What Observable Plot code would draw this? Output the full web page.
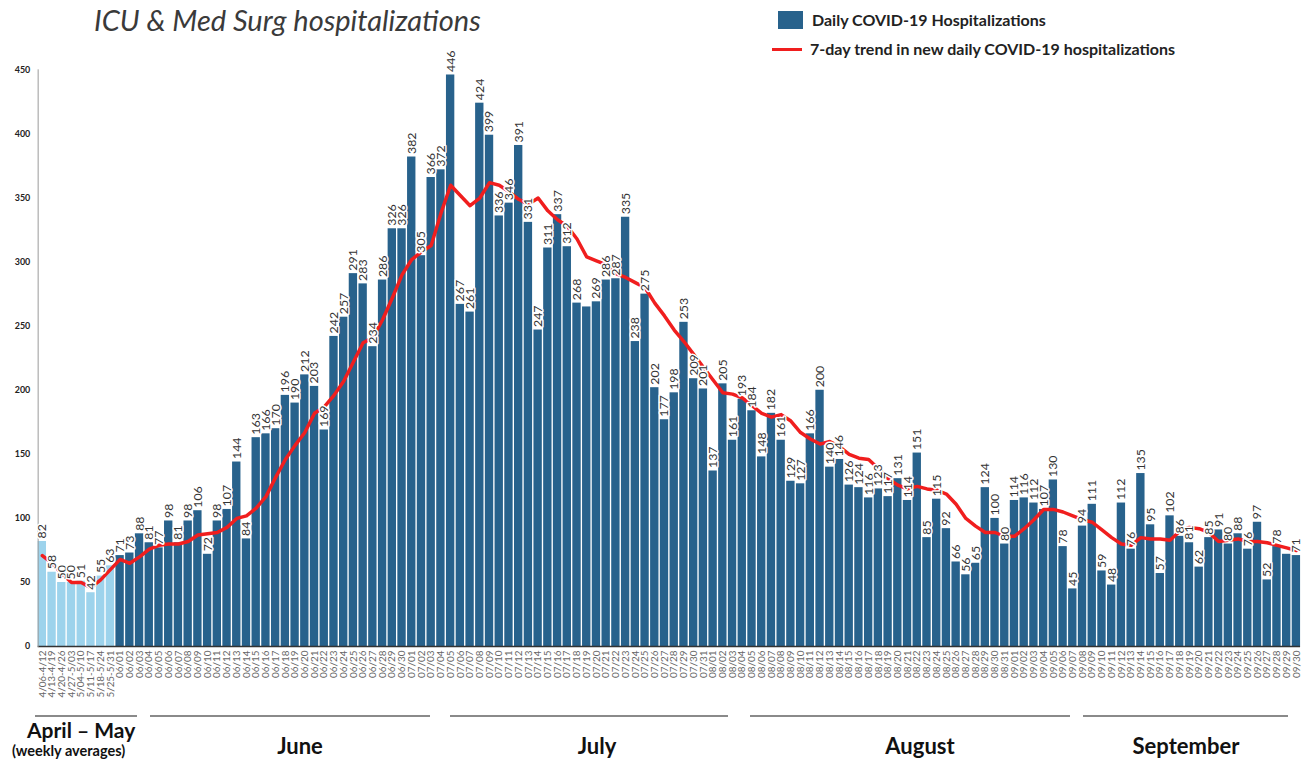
<!DOCTYPE html>
<html><head><meta charset="utf-8">
<script src="https://cdn.jsdelivr.net/npm/d3@7"></script>
<script src="https://cdn.jsdelivr.net/npm/@observablehq/plot@0.6"></script>
<style>
body{margin:0;overflow:hidden;background:#fff;font-family:Lato,"Open Sans",sans-serif;}
#wrap{position:relative;width:1308px;height:759px;overflow:hidden;}
#chart{position:absolute;left:0;top:0;}
.abs{position:absolute;white-space:nowrap;line-height:1;}
.mline{position:absolute;height:2px;background:#8a8a8a;top:715px;}
.month{position:absolute;font-weight:700;font-size:22px;line-height:1;color:#111;transform:translateX(-50%);top:735px;white-space:nowrap;}
</style></head><body>
<div id="wrap">
<div id="chart"></div>
<div class="abs" style="left:94px;top:3px;font-size:29px;line-height:1.15;font-style:italic;color:#3a3a3a;">ICU &amp; Med Surg hospitalizations</div>
<div class="abs" style="left:778px;top:11px;width:25px;height:18px;background:#28628c;"></div>
<div class="abs" style="left:812px;top:12px;font-size:16px;font-weight:700;color:#222;">Daily COVID-19 Hospitalizations</div>
<div class="abs" style="left:772px;top:47.5px;width:30px;height:3px;background:#f01e1e;"></div>
<div class="abs" style="left:810px;top:41px;font-size:16px;font-weight:700;color:#222;">7-day trend in new daily COVID-19 hospitalizations</div>
<div class="mline" style="left:35px;width:102px;"></div>
<div class="mline" style="left:150px;width:280px;"></div>
<div class="mline" style="left:450px;width:278px;"></div>
<div class="mline" style="left:750px;width:320px;"></div>
<div class="mline" style="left:1083px;width:205px;"></div>
<div class="abs" style="left:27px;top:719px;font-size:21px;font-weight:700;color:#111;">April – May</div>
<div class="abs" style="left:12px;top:744px;font-size:14.5px;font-weight:700;color:#111;">(weekly averages)</div>
<div class="month" style="left:300px;">June</div>
<div class="month" style="left:597px;">July</div>
<div class="month" style="left:920px;">August</div>
<div class="month" style="left:1186px;">September</div>
</div>
<script>
// ---- data ----
const weeks = ["4/06-4/12","4/13-4/19","4/20-4/26","4/27-5/03","5/04-5/10","5/11-5/17","5/18-5/24","5/25-5/31"];
const weeklyAvg = [82,58,50,50,51,42,55,63];
const trendWeekly = [71,65,57,50,50,46,52,60];

const juneDaily = [71,73,88,81,77,98,81,98,106,72,98,107,144,84,163,166,170,196,190,212,203,169,242,257,291,283,234,286,326,326];
const julyDaily = [382,305,366,372,446,267,261,424,399,336,346,391,331,247,311,337,312,268,265,269,286,287,335,238,275,202,177,198,253,209,201];
const augDaily = [137,205,161,193,184,148,182,161,129,127,166,200,140,146,126,124,116,123,117,131,114,151,85,115,92,66,56,65,124,100,80];
const sepDaily = [114,116,112,107,130,78,45,94,111,59,48,112,76,135,95,57,102,86,81,62,85,91,80,88,76,97,52,78,72,71];

const trendJune = [68,65,70,76,79,80,80,82,87,88,89,93,100,102,108,117,132,146,157,167,182,187,196,207,222,237,241,255,272,290];
const trendJuly = [302,308,313,338,360,352,344,350,362,360,355,349,345,350,340,333,328,318,304,301,298,291,288,284,280,268,258,247,238,228,218];
const trendAug = [208,198,197,194,188,182,179,181,176,167,162,158,160,156,150,147,146,139,131,126,123,125,123,122,119,111,100,94,89,89,86];
const trendSep = [86,92,99,107,107,105,102,99,97,91,85,80,79,85,84,84,83,90,93,92,89,82,83,84,82,82,81,79,77,75];

const unlabeled = new Set(["07/19","09/29"]);
const yTicks = [0,50,100,150,200,250,300,350,400,450];

// ---- table ----
const rows = [];
weeks.forEach((w,k)=>rows.push({cat:w, value:weeklyAvg[k], trend:trendWeekly[k], weekly:true}));
[["06",juneDaily,trendJune],["07",julyDaily,trendJuly],["08",augDaily,trendAug],["09",sepDaily,trendSep]]
  .forEach(([m,vals,tr])=>vals.forEach((v,k)=>rows.push({cat:`${m}/${String(k+1).padStart(2,"0")}`, value:v, trend:tr[k], weekly:false})));
const labeled = rows.filter(d=>!unlabeled.has(d.cat));

const plot = Plot.plot({
  width: 1320, height: 720,
  marginTop: 70, marginBottom: 68, marginLeft: 38, marginRight: 8,
  style: {fontFamily: "Lato, sans-serif", background: "transparent"},
  x: {type: "band", domain: rows.map(d=>d.cat), paddingInner: 0.14, paddingOuter: 0, label: null},
  y: {domain: [0,450], label: null},
  marks: [
    Plot.barY(rows.filter(d=>d.weekly), {x:"cat", y:"value", fill:"#9dd3ec"}),
    Plot.barY(rows.filter(d=>!d.weekly), {x:"cat", y:"value", fill:"#28628c"}),
    Plot.ruleY([0], {stroke:"#333", strokeWidth:1.5}),
    Plot.frame({anchor:"left", stroke:"#999"}),
    Plot.axisY({ticks: yTicks, tickSize: 0, tickPadding: 8, fontSize: 9, fontWeight: "bold", fill:"#222", label: null}),
    Plot.axisX({tickRotate: -90, tickSize: 0, tickPadding: 4, fontSize: 10, fill: "#666", label: null}),
    Plot.lineY(rows, {x:"cat", y:"trend", stroke:"#f01e1e", strokeWidth:3.5, strokeLinejoin:"round"}),
    Plot.text(labeled, {x:"cat", y:"value", text:d=>String(d.value), rotate:-90, textAnchor:"start", dy:-3,
      fontSize: 12.5, fill:"#333", stroke:"white", strokeWidth:3, fontWeight: d=>d.cat>="07/24" && !d.weekly ? "bold" : "normal"})
  ]
});
document.getElementById("chart").appendChild(plot);
</script>
</body></html>
